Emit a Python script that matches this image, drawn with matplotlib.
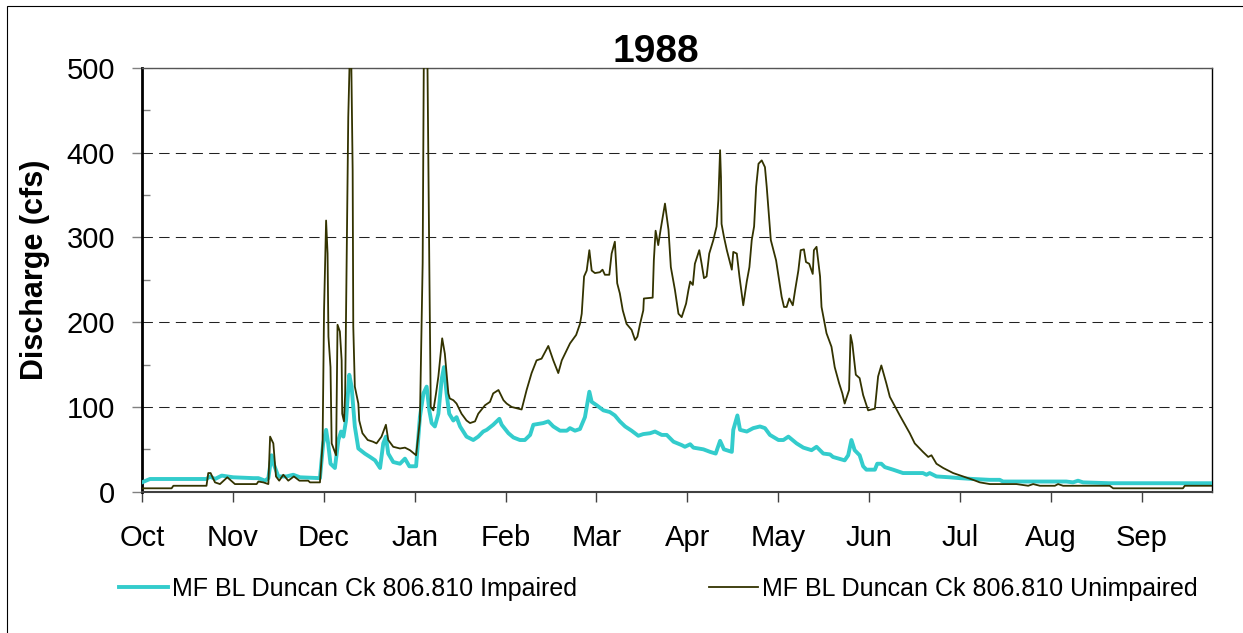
import matplotlib
matplotlib.use("Agg")
import matplotlib.pyplot as plt
from matplotlib.patches import Rectangle
from matplotlib.ticker import MultipleLocator

plt.rcParams['font.family'] = ['Liberation Sans', 'DejaVu Sans']

# day index from Oct 1 (water year 1988), discharge in cfs
unimp_day = [0, 10.1, 10.7, 22, 22.6, 23.4, 24.9, 26.6, 29.1, 31.7, 39.1, 39.7, 41.4, 43.1, 43.7, 44.8,
             45.7, 46.8, 48.2, 49.9, 51.8, 53.7, 56.7, 57.3, 60.7, 61.6, 62.1, 62.8, 63.3, 63.6, 64.3, 64.7,
             66.2, 66.7, 67.5, 68.1, 68.3, 68.9, 69.3, 70.36, 71.2, 71.86, 72.07, 72.6, 73.8, 74.1, 75.2, 77,
             78.8, 80, 81.7, 83.2, 84, 85.7, 88, 89.7, 91.4, 93.5, 94.8, 95.74, 96.6, 98.0, 98.5, 99.4,
             100.3, 101.1, 102.4, 103.3, 104.5, 105, 106.2, 107.3, 109, 110.7, 111.9, 113.6, 114.7, 117,
             118.7, 119.8, 121.6, 123.3, 124.4, 126.1, 129.5, 131.2, 132.9, 134.6, 136.3, 138.6, 140.3, 142,
             143.2, 144.9, 146, 148.1, 149.4, 150, 150.8, 151.7, 152.6, 153.4, 154.5, 156.2, 157.1, 157.9,
             159.4, 160.2, 161.3, 162.1, 163, 164, 165.3, 167, 168.2, 169, 169.9, 171, 171.2, 174.2, 174.6,
             175.2, 176.1, 176.9, 178.4, 179.6, 180.4, 181.8, 183, 184.1, 185.6, 186.4, 187, 187.9, 188.6,
             190.1, 190.9, 191.7, 192.6, 193.5, 194.9, 196, 196.6, 197.2, 197.5, 197.7, 198.5, 199.5, 201.2,
             201.7, 202.9, 203.8, 205.1, 206.3, 207.2, 208, 208.8, 209.5, 210.3, 211.4, 212.5, 213.1, 214.5,
             216.3, 218.2, 219, 219.9, 220.8, 222, 222.8, 223.9, 224.7, 225.8, 226.5, 227.6, 228.8, 229.2,
             230.1, 231.3, 231.8, 233.5, 235.2, 236.3, 237.8, 238.9, 239.7, 241.2, 241.7, 242.3, 243.5, 244.8,
             246, 247.7, 250, 251.1, 252.2, 253.9, 255.1, 258.5, 261.9, 263.6, 266.4, 268.2, 269.3, 271,
             273.3, 276.7, 280.1, 283.5, 285.8, 289.2, 298.3, 302.3, 304, 306.3, 311.4, 312.5, 314.2, 330.1,
             331.3, 355.1, 355.7, 365]
unimp_cfs = [4, 4, 7, 7, 22, 22, 11, 9, 17, 9, 9, 12, 11, 9, 65, 57,
             18, 13, 20, 13, 18, 13, 13, 11, 11, 57, 214, 320, 281, 183, 147, 57,
             43, 197, 189, 155, 92, 83, 116, 442, 560, 379, 195, 124, 104, 84, 69, 61,
             59, 57, 65, 79, 61, 53, 51, 52, 49, 43, 84, 270, 800, 270, 100, 96,
             116, 136, 181, 163, 116, 110, 108, 104, 92, 84, 81, 83, 92, 102,
             106, 116, 120, 108, 104, 100, 97, 120, 140, 155, 157, 172, 155, 140,
             155, 167, 175, 185, 198, 210, 254, 261, 285, 261, 258, 259, 262, 256,
             256, 281, 295, 246, 234, 214, 198, 191, 179, 183, 198, 214, 228, 229, 273,
             308, 291, 309, 340, 309, 265, 238, 210, 206, 222, 238, 248, 244, 269,
             285, 269, 252, 254, 281, 297, 313, 344, 403, 371, 316, 301, 285, 262,
             283, 281, 254, 220, 248, 265, 297, 313, 360, 387, 391, 383, 360, 297,
             273, 230, 218, 218, 228, 220, 238, 261, 285, 286, 271, 269, 257, 285,
             289, 254, 218, 187, 171, 147, 128, 116, 104, 120, 185, 175, 138, 134,
             114, 96, 98, 136, 149, 128, 112, 90, 69, 57, 47, 41, 43, 33,
             28, 22, 18, 14, 11, 9, 9, 7, 9, 7, 7, 9, 7, 7,
             4, 4, 7, 7]

imp_day = [0, 2.7, 22, 23.2, 24.9, 27.2, 31.1, 38, 39.7, 42, 43.1, 44.2, 45.1, 46.5, 49.3, 51.6,
           53.9, 60.7, 61.8, 62.8, 63.5, 64.3, 65.8, 67, 67.9, 68.7, 69.6, 70.7, 71.5, 72.6, 73.8, 76,
           77.8, 79.5, 81.2, 82.3, 83.2, 84, 85.7, 88, 89.7, 91.2, 93.5, 94.8, 96, 97.1, 98, 98.8,
           99.9, 101.1, 102.2, 103, 103.9, 104.8, 106.2, 107.3, 108.5, 110.7, 113, 114.7, 116.4, 117.6,
           119.8, 121.9, 122.7, 125, 126.7, 128.9, 130.6, 132.4, 133.5, 135.2, 136.9, 138.6, 140.3, 142.6,
           144.9, 146, 147.7, 149.4, 151.1, 151.9, 152.6, 153.4, 155.1, 157.4, 159.6, 161.3, 163, 164.8,
           167, 169.3, 171, 173.3, 175, 177.3, 179, 181.3, 184.1, 185.2, 187, 188.1, 191.5, 193.8,
           195.7, 197.2, 198.5, 201.2, 201.7, 203.1, 204, 206.3, 208.5, 210.8, 212.5, 214.2, 217.1, 218.8,
           220.5, 223.3, 225.6, 228.4, 230.1, 232.4, 234.7, 235.7, 239.7, 240.9, 242, 243.1, 244.8, 246,
           247.1, 250, 250.8, 252.2, 253.4, 256.2, 259.6, 266.4, 267.6, 268.7, 271, 275.5, 279, 283.5,
           289.2, 292.6, 293.7, 315.3, 317.6, 319.3, 321, 330.1, 365]
imp_cfs = [11, 15, 15, 18, 15, 19, 17, 16, 16, 13, 16, 43, 31, 18, 18, 20,
           17, 16, 57, 73, 57, 33, 28, 61, 71, 65, 84, 138, 124, 77, 51, 45,
           41, 37, 28, 57, 65, 45, 35, 33, 39, 30, 30, 88, 116, 124, 96, 81,
           77, 92, 132, 147, 116, 92, 84, 88, 77, 65, 61, 65, 71, 73,
           79, 86, 79, 69, 64, 61, 61, 67, 79, 80, 81, 83, 77, 72,
           72, 75, 72, 74, 88, 104, 118, 106, 102, 96, 94, 90, 83, 77,
           72, 66, 68, 69, 71, 67, 67, 59, 55, 53, 56, 52, 50, 47,
           45, 60, 50, 47, 73, 90, 73, 71, 75, 77, 75, 67, 61, 61,
           65, 57, 52, 49, 53, 45, 44, 41, 37, 43, 61, 49, 43, 30,
           26, 26, 33, 33, 29, 26, 22, 22, 20, 22, 18, 17, 16, 15,
           14, 14, 12, 12, 11, 13, 11, 10, 10]

months = ['Oct', 'Nov', 'Dec', 'Jan', 'Feb', 'Mar', 'Apr', 'May', 'Jun', 'Jul', 'Aug', 'Sep']
month_ticks = [31 * i for i in range(12)]

fig = plt.figure(figsize=(12.43, 6.33), dpi=100)
ax = fig.add_axes([142 / 1243, 1 - 491.7 / 633, 1070 / 1243, 423.7 / 633])

ax.plot(imp_day, imp_cfs, color='#33CCCC', lw=2.8, label='MF BL Duncan Ck 806.810 Impaired', zorder=3)
ax.plot(unimp_day, unimp_cfs, color='#333300', lw=1.3, label='MF BL Duncan Ck 806.810 Unimpaired', zorder=4)

ax.set_xlim(0, 365)
ax.set_ylim(0, 500)
ax.set_xticks(month_ticks)
ax.set_xticklabels(months)
ax.yaxis.set_major_locator(MultipleLocator(100))
ax.yaxis.set_minor_locator(MultipleLocator(50))
ax.tick_params(axis='x', direction='out', length=7, width=1, color='#404040', labelsize=21, pad=16.5)
ax.tick_params(axis='y', which='major', direction='out', length=7, width=1, color='#808080',
               labelsize=21, pad=12.5)
ax.tick_params(axis='y', which='minor', direction='in', length=6, width=1, color='#808080')
ax.grid(axis='y', which='major', color='#222222', lw=0.75, linestyle=(0, (10, 6)))

ax.spines['left'].set_linewidth(2.0)
ax.spines['left'].set_color('black')
ax.spines['bottom'].set_linewidth(1.5)
ax.spines['bottom'].set_color('#404040')
ax.spines['right'].set_linewidth(1.0)
ax.spines['right'].set_color('black')
ax.spines['top'].set_linewidth(1.0)
ax.spines['top'].set_color('#555555')

fig.text(656 / 1243, 1 - 52 / 633, '1988', fontsize=28, fontweight='bold', ha='center', va='center')
fig.text(35 / 1243, 1 - 270 / 633, 'Discharge (cfs)', fontsize=22, fontweight='bold',
         rotation=90, ha='center', va='center')

fig.legend(loc='center left', bbox_to_anchor=(119 / 1243, 1 - 589 / 633), ncol=2, frameon=False,
           fontsize=18, handlelength=1.95, handletextpad=0.15, columnspacing=5.3,
           borderpad=0, borderaxespad=0)

# outer chart frame
fig.patches.append(Rectangle((7 / 1243, -0.1), 1.2, 1.1 - 5.7 / 633, transform=fig.transFigure,
                             fill=False, edgecolor='black', lw=0.8))

fig.savefig('out.png', dpi=100)
